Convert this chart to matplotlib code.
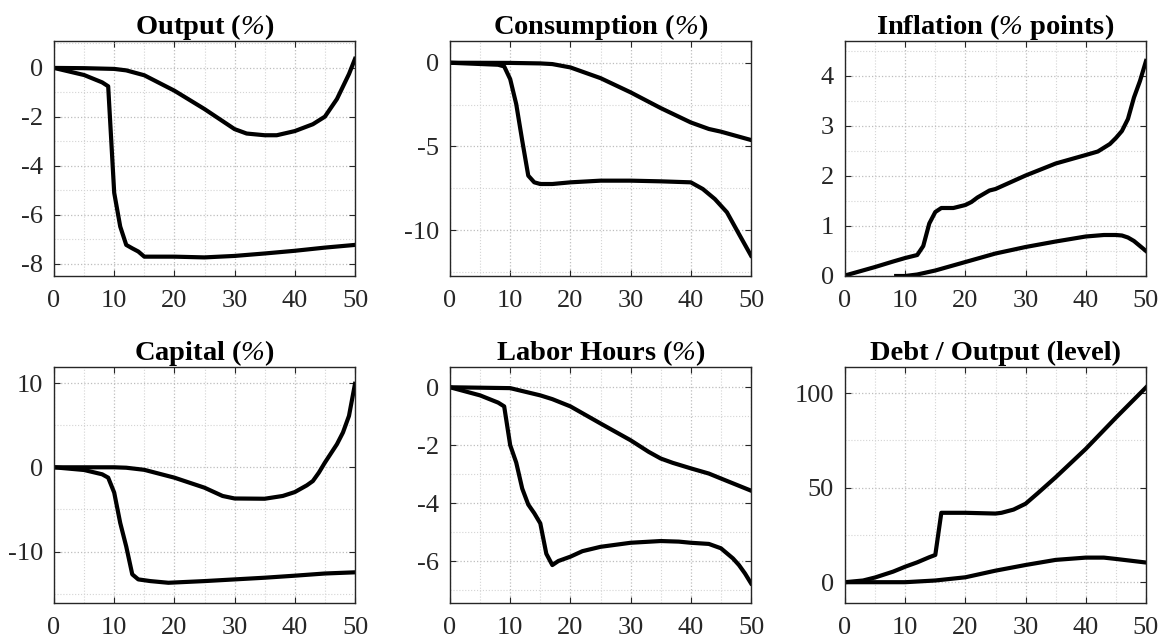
import matplotlib
matplotlib.use('Agg')
import matplotlib.pyplot as plt
from matplotlib.ticker import MultipleLocator

plt.rcParams['font.family'] = ['Liberation Serif', 'DejaVu Serif']
# mathtext só é usado para o "%" itálico dos títulos
plt.rcParams['mathtext.fontset'] = 'custom'
plt.rcParams['mathtext.rm'] = 'Liberation Serif:italic'
plt.rcParams['mathtext.it'] = 'Liberation Serif:italic'
plt.rcParams['mathtext.bf'] = 'Liberation Serif:bold'
plt.rcParams['axes.unicode_minus'] = False

# ── Dados (dois cenários por painel) ──────────────────────────────────────

# Output (%)
out_x_a = [0, 5, 10, 12, 15, 20, 25, 30, 32, 35, 37, 40, 43, 45, 47, 49, 50]
out_y_a = [0, -0.01, -0.04, -0.1, -0.3, -0.93, -1.68, -2.5, -2.68, -2.75, -2.75,
           -2.58, -2.3, -1.99, -1.27, -0.25, 0.37]
out_x_b = [0, 5, 8, 9, 10, 11, 12, 13, 14, 15, 20, 25, 30, 35, 40, 45, 50]
out_y_b = [0, -0.29, -0.59, -0.75, -5.1, -6.48, -7.23, -7.37, -7.5, -7.71, -7.71,
           -7.74, -7.68, -7.58, -7.47, -7.34, -7.23]

# Consumption (%)
con_x_a = [0, 10, 15, 17, 20, 25, 30, 35, 40, 43, 45, 50]
con_y_a = [0, -0.01, -0.04, -0.08, -0.28, -0.92, -1.77, -2.71, -3.57, -3.96, -4.12, -4.62]
con_x_b = [0, 8, 9, 10, 11, 12, 13, 14, 15, 17, 20, 25, 30, 35, 40, 42, 44, 46, 48, 50]
con_y_b = [0, -0.12, -0.22, -0.98, -2.47, -4.66, -6.75, -7.15, -7.25, -7.25, -7.15,
           -7.05, -7.05, -7.09, -7.15, -7.55, -8.15, -8.94, -10.24, -11.53]

# Inflation (% points)
inf_x_a = [0, 5, 8, 10, 12, 13, 14, 15, 16, 18, 20, 21, 22, 24, 25, 30, 35, 40, 42,
           44, 45, 46, 47, 48, 49, 50]
inf_y_a = [0.01, 0.18, 0.29, 0.36, 0.42, 0.6, 1.05, 1.28, 1.36, 1.36, 1.42, 1.48,
           1.57, 1.71, 1.74, 2.01, 2.25, 2.42, 2.49, 2.64, 2.76, 2.9, 3.14, 3.57, 3.9, 4.3]
inf_x_b = [8.5, 10, 12, 15, 20, 25, 30, 35, 40, 43, 45, 46, 47, 48, 49, 50]
inf_y_b = [0, 0, 0.03, 0.11, 0.28, 0.45, 0.58, 0.69, 0.79, 0.82, 0.82, 0.81, 0.77,
           0.7, 0.6, 0.5]

# Capital (%)
cap_x_a = [0, 10, 12, 15, 20, 25, 28, 30, 35, 38, 40, 42, 43, 44, 45, 47, 48, 49, 50]
cap_y_a = [0, 0, -0.05, -0.3, -1.23, -2.42, -3.4, -3.7, -3.73, -3.4, -2.94, -2.14,
           -1.63, -0.63, 0.56, 2.74, 4.13, 6.1, 9.9]
cap_x_b = [0, 5, 8, 9, 10, 11, 12, 13, 14, 16, 19, 25, 30, 35, 40, 45, 50]
cap_y_b = [0, -0.32, -0.83, -1.23, -3.0, -6.6, -9.4, -12.7, -13.3, -13.5, -13.7,
           -13.5, -13.3, -13.1, -12.86, -12.6, -12.46]

# Labor Hours (%)
lab_x_a = [0, 10, 12, 15, 17, 20, 25, 30, 33, 35, 37, 40, 43, 45, 50]
lab_y_a = [0, -0.03, -0.13, -0.28, -0.41, -0.66, -1.25, -1.83, -2.23, -2.46, -2.61,
           -2.8, -2.98, -3.15, -3.57]
lab_x_b = [0, 5, 8, 9, 10, 11, 12, 13, 14, 15, 16, 17, 18, 20, 22, 25, 30, 35, 38,
           40, 43, 45, 47, 48, 49, 50]
lab_y_b = [0, -0.28, -0.53, -0.66, -2.0, -2.6, -3.5, -4.05, -4.35, -4.7, -5.75,
           -6.14, -6.0, -5.85, -5.66, -5.51, -5.37, -5.31, -5.33, -5.37, -5.41,
           -5.56, -5.91, -6.14, -6.43, -6.77]

# Debt / Output (level)
deb_x_a = [0, 3, 5, 8, 10, 12, 14, 15, 16, 20, 25, 26, 28, 30, 32, 35, 40, 45, 50]
deb_y_a = [0, 0.9, 2.5, 5.6, 8.2, 10.5, 13.2, 14.4, 36.7, 36.7, 36.3, 36.7, 38.4,
           41.5, 47, 55.5, 70.5, 87, 103]
deb_x_b = [0, 10, 15, 20, 25, 30, 35, 40, 43, 45, 50]
deb_y_b = [0, 0, 0.9, 2.6, 6.1, 9.1, 11.8, 13.0, 13.0, 12.3, 10.4]

TITULOS = [r'Output ($\%$)', r'Consumption ($\%$)',
           r'Inflation ($\%$ points)', r'Capital ($\%$)',
           r'Labor Hours ($\%$)', 'Debt / Output (level)']
SERIES = [(out_x_a, out_y_a, out_x_b, out_y_b),
          (con_x_a, con_y_a, con_x_b, con_y_b),
          (inf_x_a, inf_y_a, inf_x_b, inf_y_b),
          (cap_x_a, cap_y_a, cap_x_b, cap_y_b),
          (lab_x_a, lab_y_a, lab_x_b, lab_y_b),
          (deb_x_a, deb_y_a, deb_x_b, deb_y_b)]
YLIMS = [(-8.5, 1.1), (-12.75, 1.3), (0, 4.7), (-16.1, 11.9), (-7.45, 0.7), (-11, 113.8)]
YMAJ = [2, 5, 1, 10, 2, 50]

# ── Figura ────────────────────────────────────────────────────────────────

W, H = 1164, 641
fig = plt.figure(figsize=(W / 100, H / 100), dpi=100)
lefts = [54, 450, 845]
rows = [(41, 276), (367, 603)]
cinza = '#262626'

for i in range(6):
    l = lefts[i % 3]
    t, b = rows[i // 3]
    ax = fig.add_axes([l / W, 1 - b / H, 301 / W, (b - t) / H])
    xa, ya, xb, yb = SERIES[i]
    ax.plot(xa, ya, color='black', lw=3.0, solid_joinstyle='round')
    ax.plot(xb, yb, color='black', lw=3.0, solid_joinstyle='round')
    ax.set_xlim(0, 50)
    ax.set_ylim(*YLIMS[i])
    ax.xaxis.set_major_locator(MultipleLocator(10))
    ax.xaxis.set_minor_locator(MultipleLocator(5))
    ax.yaxis.set_major_locator(MultipleLocator(YMAJ[i]))
    ax.yaxis.set_minor_locator(MultipleLocator(YMAJ[i] / 2))
    ax.grid(which='major', color='#bdbdbd', linestyle=':', lw=0.9)
    ax.grid(which='minor', color='#d4d4d4', linestyle=':', lw=0.8)
    ax.set_axisbelow(True)
    ax.tick_params(which='major', direction='in', top=True, right=True, length=4,
                   width=0.8, color=cinza, labelsize=19, labelcolor=cinza)
    ax.tick_params(axis='x', which='major', pad=10)
    ax.tick_params(axis='y', which='major', pad=8)
    ax.tick_params(which='minor', length=0)
    for s in ax.spines.values():
        s.set_color(cinza)
        s.set_linewidth(1.0)
    ax.set_title(TITULOS[i], fontsize=20.5, fontweight='bold', pad=5)

plt.savefig('out.png', dpi=100)
plt.close()
